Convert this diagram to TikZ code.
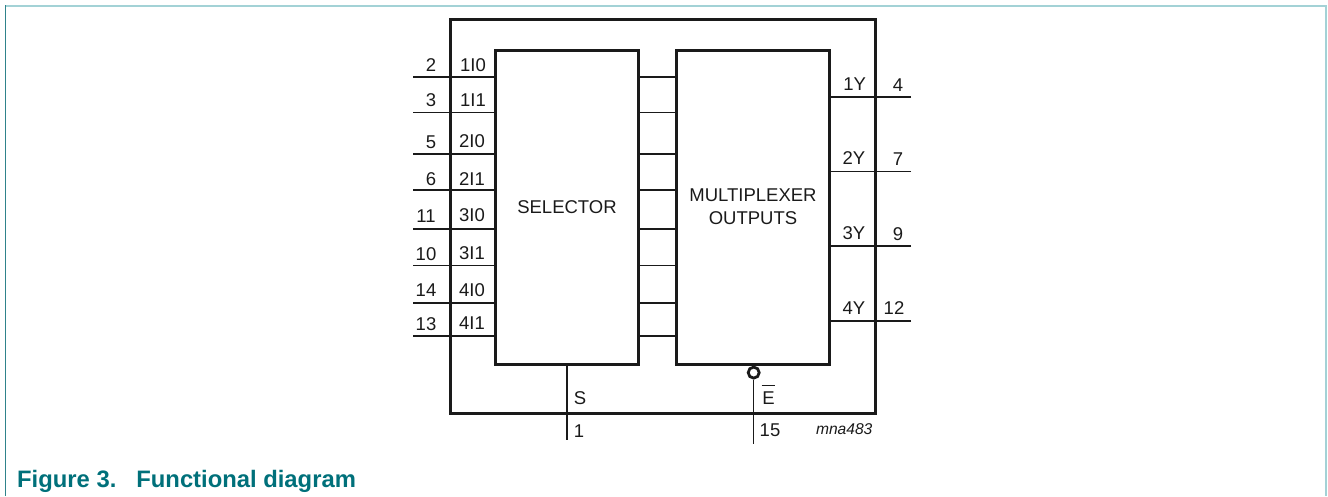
\documentclass[tikz,border=0pt]{standalone}
\usepackage{fontspec}
\setmainfont{Liberation Sans}
\definecolor{framecol}{HTML}{A3D2D6}
\definecolor{edgecol}{HTML}{2F838B}
\definecolor{captioncol}{HTML}{00707A}
\definecolor{inkcol}{HTML}{1A1A1A}
\begin{document}
\begin{tikzpicture}[x=1pt,y=-1pt,
  thin line/.style={line width=1.4pt,color=inkcol},
  main box/.style={draw=inkcol,line width=3pt,rectangle,inner sep=0pt,font=\fontsize{18.5}{22}\selectfont,text=inkcol,align=center},
  pin label/.style={font=\fontsize{18.5}{20}\selectfont,text=inkcol,inner sep=0pt,anchor=base}]
  \useasboundingbox (0,0) rectangle (1328,496);
  \draw[framecol,line width=2pt] (6,6) -- (1326,6) -- (1326,496);
  \draw[edgecol,line width=1.3pt] (5.6,5) -- (5.6,496);

  \node[main box,minimum width=425pt,minimum height=394pt] (chip) at (662.5,216) {};
  \node[main box,minimum width=142.5pt,minimum height=314pt] (sel) at (567,207) {SELECTOR};
  \node[main box,minimum width=153pt,minimum height=314pt] (mux) at (752.5,207) {};
  \node[font=\fontsize{18.5}{23}\selectfont,text=inkcol,align=center,inner sep=0pt] (muxtext) at (753,207) {MULTIPLEXER\\OUTPUTS};

  % input pins
  \coordinate (i1) at (413,77);
  \coordinate (i2) at (413,112.7);
  \coordinate (i3) at (413,154);
  \coordinate (i4) at (413,190);
  \coordinate (i5) at (413,229);
  \coordinate (i6) at (413,265.7);
  \coordinate (i7) at (413,303);
  \coordinate (i8) at (413,336);
  % output pins
  \coordinate (o1) at (911,97);
  \coordinate (o2) at (911,171.7);
  \coordinate (o3) at (911,246);
  \coordinate (o4) at (911,321);
  % bottom pins
  \coordinate (s1) at (567,440);
  \coordinate (e1) at (753.7,444);
  \node[circle,draw=inkcol,line width=2.8pt,minimum size=11pt,inner sep=0pt,fill=white] (bubble) at (753.7,372.6) {};

  \path[thin line]
   (i1) edge (i1 -| sel.west) (sel.east |- i1) edge (mux.west |- i1)
   (i2) edge (i2 -| sel.west) (sel.east |- i2) edge (mux.west |- i2)
   (i3) edge (i3 -| sel.west) (sel.east |- i3) edge (mux.west |- i3)
   (i4) edge (i4 -| sel.west) (sel.east |- i4) edge (mux.west |- i4)
   (i5) edge (i5 -| sel.west) (sel.east |- i5) edge (mux.west |- i5)
   (i6) edge (i6 -| sel.west) (sel.east |- i6) edge (mux.west |- i6)
   (i7) edge (i7 -| sel.west) (sel.east |- i7) edge (mux.west |- i7)
   (i8) edge (i8 -| sel.west) (sel.east |- i8) edge (mux.west |- i8)
   (o1) edge (o1 -| mux.east)
   (o2) edge (o2 -| mux.east)
   (o3) edge (o3 -| mux.east)
   (o4) edge (o4 -| mux.east)
   (sel.south) edge (s1)
   (bubble.south) edge (e1);

  % labels outside and inside the chip
  \node[pin label] (n1) at (431,71.7) {2};
  \node[pin label] (n2) at (431,106.7) {3};
  \node[pin label] (n3) at (431,148.3) {5};
  \node[pin label] (n4) at (431,185) {6};
  \node[pin label] (n5) at (426,222.7) {11};
  \node[pin label] (n6) at (426,260) {10};
  \node[pin label] (n7) at (426,296.7) {14};
  \node[pin label] (n8) at (426,330) {13};
  \node[pin label] (l1) at (473,71) {1I0};
  \node[pin label] (l2) at (473,106.7) {1I1};
  \node[pin label] (l3) at (472,147.3) {2I0};
  \node[pin label] (l4) at (472,185) {2I1};
  \node[pin label] (l5) at (472,221.7) {3I0};
  \node[pin label] (l6) at (472,259) {3I1};
  \node[pin label] (l7) at (472,296.7) {4I0};
  \node[pin label] (l8) at (472,329.3) {4I1};
  \node[pin label] (y1) at (854.7,90) {1Y};
  \node[pin label] (y2) at (854,164) {2Y};
  \node[pin label] (y3) at (854,239) {3Y};
  \node[pin label] (y4) at (854,314) {4Y};
  \node[pin label] (p1) at (898,91) {4};
  \node[pin label] (p2) at (898,165) {7};
  \node[pin label] (p3) at (898,240) {9};
  \node[pin label] (p4) at (894,314) {12};
  \node[pin label] (sname) at (580,404) {S};
  \node[pin label] (snum) at (579,437) {1};
  \node[pin label] (ename) at (768.5,404) {E};
  \draw[inkcol,line width=1.2pt] (761.7,385.7) -- (775,385.7);
  \node[pin label] (enum) at (770,436.7) {15};
  \node[font=\fontsize{15.6}{16}\selectfont\itshape,text=inkcol,inner sep=0pt,anchor=base] (code) at (844.2,434) {mna483};
  \node[font=\fontsize{23.8}{26}\selectfont\bfseries,text=captioncol,inner sep=0pt,anchor=base west] (caption) at (17,487) {Figure 3.\hspace{20pt}Functional diagram};
\end{tikzpicture}
\end{document}
